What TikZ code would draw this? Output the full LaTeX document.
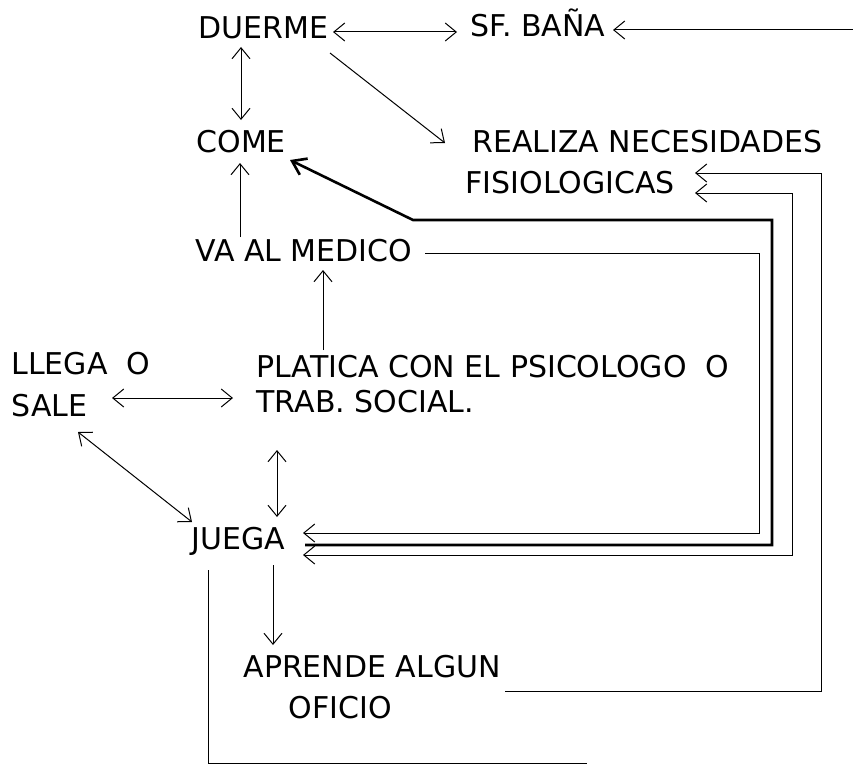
\documentclass[tikz,border=0pt]{standalone}
\usepackage{fontspec}
\setmainfont{DejaVu Sans}
\usetikzlibrary{arrows.meta}

\begin{document}
\begin{tikzpicture}[x=1pt,y=-1pt,line width=1pt,
    >={Straight Barb[length=11pt,width=18pt]},
    lbl/.style={anchor=base west,inner sep=0pt,font=\fontsize{30}{36}\selectfont},
    heavy/.style={line width=2.6pt,>={Straight Barb[length=13pt,width=18pt]}}]
  \useasboundingbox (0,0) rectangle (853,768);
  \path (198,38) node (duerme) [lbl] {DUERME}
    (470,37) node (bana) [lbl] {SF. BAÑA}
    (472,152) node (realiza) [lbl] {REALIZA NECESIDADES}
    (465,193) node (fisio) [lbl] {FISIOLOGICAS}
    (196,152) node (come) [lbl] {COME}
    (195,261) node (vamedico) [lbl] {VA AL MEDICO}
    (11,374) node (llega) [lbl] {LLEGA\ \ O}
    (11,416) node (sale) [lbl] {SALE}
    (256,377) node (platica) [lbl] {PLATICA CON EL PSICOLOGO\ \ O}
    (256,412) node (trab) [lbl] {TRAB. SOCIAL.}
    (191,549) node (juega) [lbl] {JUEGA}
    (243,677) node (aprende) [lbl] {APRENDE ALGUN}
    (288,718) node (oficio) [lbl] {OFICIO};
  \coordinate (edge) at (853,30);
  \coordinate (tail) at (587,763);
  \coordinate (knee) at (413,220);
  \coordinate (rail1) at (759,0);
  \coordinate (rail2) at (772,0);
  \coordinate (rail3) at (792,0);
  \coordinate (rail4) at (821,0);

  \draw[<->] ([shift={(135pt,6pt)}]duerme.base west) -- ([shift={(-13pt,5pt)}]bana.base west);
  \draw[->] (edge) -- ([shift={(143pt,7pt)}]bana.base west);
  \draw[<->] ([shift={(43pt,-9pt)}]duerme.base west) -- ([shift={(45pt,32pt)}]come.base west);
  \draw[->] ([shift={(132pt,-15pt)}]duerme.base west) -- ([shift={(-27pt,9pt)}]realiza.base west);
  \draw[->] ([shift={(45pt,24pt)}]vamedico.base west) -- ([shift={(44pt,-11pt)}]come.base west);
  \draw[->] ([shift={(67pt,27pt)}]platica.base west) -- ([shift={(128pt,-9pt)}]vamedico.base west);
  \draw[<->] ([shift={(101pt,18pt)}]sale.base west) -- ([shift={(-23pt,14pt)}]trab.base west);
  \draw[<->] ([shift={(67pt,-16pt)}]sale.base west) -- ([shift={(1pt,27pt)}]juega.base west);
  \draw[<->] ([shift={(21pt,-38pt)}]trab.base west) -- ([shift={(86pt,32pt)}]juega.base west);
  \draw[->] ([shift={(82pt,-16pt)}]juega.base west) -- ([shift={(30pt,32pt)}]aprende.base west);
  \draw ([shift={(17pt,-21pt)}]juega.base west) |- (tail);

  \draw[->] ([shift={(230pt,8pt)}]vamedico.base west) coordinate (vm)
    -- (vm -| rail1) |- ([shift={(112pt,16pt)}]juega.base west);
  \draw[->,heavy] ([shift={(114pt,4pt)}]juega.base west) coordinate (jt)
    -- (jt -| rail2) |- (knee) -- ([shift={(94pt,-8pt)}]come.base west);
  \draw[<->] ([shift={(112pt,-6pt)}]juega.base west) coordinate (jb)
    -- (jb -| rail3) |- ([shift={(230pt,0pt)}]fisio.base west);
  \draw[->] ([shift={(262pt,-14pt)}]aprende.base west) coordinate (ap)
    -- (ap -| rail4) |- ([shift={(230pt,20pt)}]fisio.base west);
\end{tikzpicture}
\end{document}
